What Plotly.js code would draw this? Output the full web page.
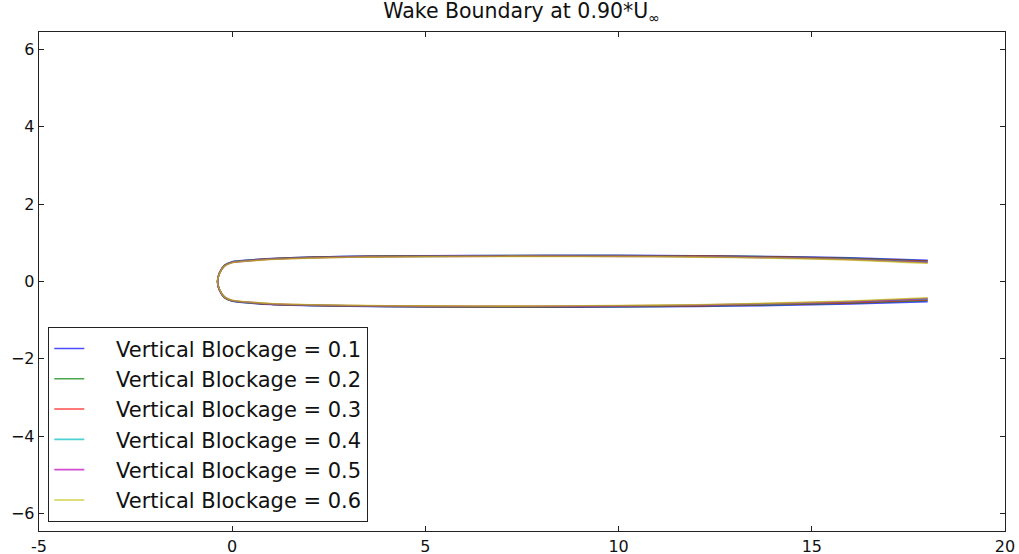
<!DOCTYPE html>
<html>
<head>
<meta charset="utf-8">
<script src="https://cdn.plot.ly/plotly-3.0.1.min.js"></script>
<style>html,body{margin:0;padding:0;background:#fff;}#chart{width:1019px;height:554px;}</style>
</head>
<body>
<div id="chart"></div>
<script>
// Boundary path: upper tail -> nose -> lower tail
const xPath = [18,16,14,12,10,8,6,4,3,2,1,0.5,0,-0.2,-0.33,-0.38,-0.33,-0.2,0,0.5,1,2,3,4,6,8,10,12,14,16,18];

const seriesNames = ["Vertical Blockage = 0.1","Vertical Blockage = 0.2","Vertical Blockage = 0.3","Vertical Blockage = 0.4","Vertical Blockage = 0.5","Vertical Blockage = 0.6"];
const seriesColors = ["#0000ff","#008000","#ff0000","#00bfbf","#bf00bf","#bfbf00"];

const yB01 = [0.55,0.61,0.645,0.665,0.675,0.675,0.67,0.66,0.65,0.63,0.595,0.56,0.51,0.42,0.22,0.0,-0.22,-0.42,-0.51,-0.56,-0.595,-0.625,-0.64,-0.65,-0.66,-0.665,-0.66,-0.645,-0.62,-0.58,-0.52];
const yB02 = [0.53,0.60,0.64,0.66,0.67,0.67,0.665,0.655,0.645,0.625,0.59,0.555,0.505,0.415,0.22,0.0,-0.22,-0.415,-0.505,-0.555,-0.59,-0.62,-0.635,-0.645,-0.655,-0.655,-0.65,-0.635,-0.60,-0.56,-0.49];
const yB03 = [0.52,0.59,0.63,0.655,0.665,0.665,0.66,0.65,0.64,0.62,0.585,0.55,0.50,0.41,0.215,0.0,-0.215,-0.41,-0.50,-0.55,-0.585,-0.615,-0.63,-0.64,-0.65,-0.65,-0.64,-0.625,-0.59,-0.545,-0.47];
const yB04 = [0.50,0.58,0.62,0.645,0.655,0.66,0.655,0.645,0.635,0.615,0.58,0.545,0.495,0.405,0.21,0.0,-0.21,-0.405,-0.495,-0.545,-0.58,-0.61,-0.625,-0.635,-0.645,-0.645,-0.635,-0.615,-0.58,-0.53,-0.45];
const yB05 = [0.49,0.57,0.615,0.64,0.65,0.655,0.65,0.64,0.63,0.61,0.575,0.54,0.49,0.40,0.21,0.0,-0.21,-0.40,-0.49,-0.54,-0.575,-0.605,-0.62,-0.63,-0.64,-0.64,-0.63,-0.61,-0.57,-0.52,-0.44];
const yB06 = [0.47,0.56,0.605,0.63,0.645,0.65,0.645,0.635,0.625,0.605,0.57,0.535,0.485,0.395,0.205,0.0,-0.205,-0.395,-0.485,-0.535,-0.57,-0.60,-0.615,-0.625,-0.635,-0.635,-0.62,-0.60,-0.56,-0.505,-0.42];

const ySeries = [yB01,yB02,yB03,yB04,yB05,yB06];

const xTicks = [-5,0,5,10,15,20];
const yTicks = [-6,-4,-2,0,2,4,6];

const pad = '\u00a0\u00a0\u00a0\u00a0';
const traces = ySeries.map((ys,i)=>({
  x: xPath, y: ys, type:'scatter', mode:'lines',
  name: pad + seriesNames[i],
  line:{color: seriesColors[i], width:1.6, shape:'spline', smoothing:0.6},
  opacity: 0.7
}));

const axCommon = {
  showline:true, linecolor:'#222', linewidth:1.3, mirror:'ticks',
  ticks:'inside', ticklen:5, tickcolor:'#222', showgrid:false, zeroline:false,
  tickfont:{family:'DejaVu Sans', size:16, color:'#111'}
};

const layout = {
  width:1019, height:554,
  margin:{l:39, r:14, t:32, b:23},
  paper_bgcolor:'#fff', plot_bgcolor:'#fff',
  title:{text:'Wake Boundary at 0.90*U<sub>∞</sub>', font:{family:'DejaVu Sans', size:20.5, color:'#111'}, x:0.512, xanchor:'center', y:0.993, yanchor:'top'},
  xaxis: Object.assign({}, axCommon, {range:[-5,20], tickvals:xTicks, ticktext:xTicks.map(String)}),
  yaxis: Object.assign({}, axCommon, {range:[-6.45,6.45], tickvals:yTicks}),
  showlegend:true,
  legend:{x:0.0093, y:0.018, xanchor:'left', yanchor:'bottom', bordercolor:'#222', borderwidth:1.3, bgcolor:'#fff',
          font:{family:'DejaVu Sans', size:21, color:'#111'}, tracegroupgap:0, itemwidth:30}
};

Plotly.newPlot('chart', traces, layout, {displayModeBar:false, staticPlot:true});
</script>
</body>
</html>
